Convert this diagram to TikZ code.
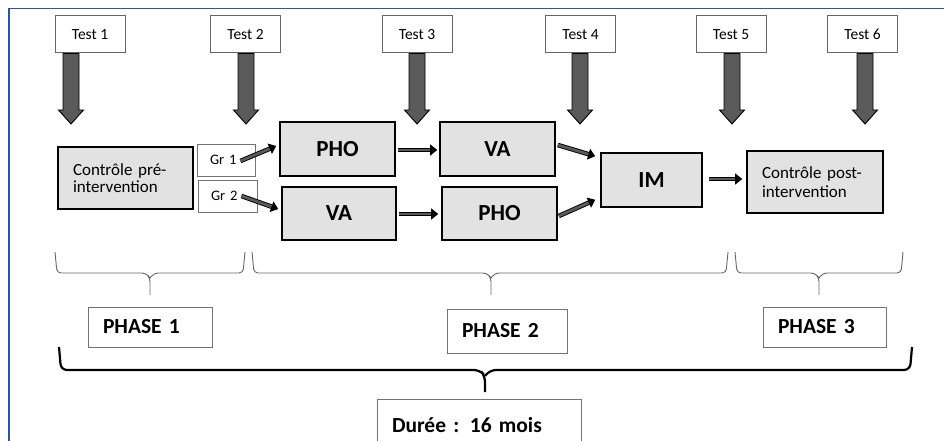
\documentclass[tikz,border=0pt]{standalone}
\usepackage{fontspec}
\setmainfont{Carlito}
\usepackage{tikz}
\usetikzlibrary{arrows.meta,positioning,calc}
\definecolor{framecol}{RGB}{47,85,151}
\definecolor{boxgray}{RGB}{226,226,226}
\definecolor{arrowgray}{RGB}{90,90,90}

\begin{document}
\begin{tikzpicture}[x=1pt, y=-1pt,
  testbox/.style={draw=black!60, line width=1pt, fill=white, minimum width=70pt, minimum height=37pt, inner sep=0pt, font=\fontsize{15.5}{17}\selectfont},
  grbox/.style={draw=black!55, line width=0.9pt, fill=white, minimum height=32pt, inner xsep=13pt, inner ysep=0pt, align=left, font=\fontsize{14.5}{17}\selectfont},
  stepbox/.style={draw=black, line width=1.6pt, fill=boxgray, minimum height=54pt, inner sep=0pt, font=\bfseries\fontsize{23}{25}\selectfont},
  ctrlbox/.style={draw=black, line width=1.6pt, fill=boxgray, minimum height=62pt, inner xsep=15pt, align=left, font=\fontsize{17}{17.5}\selectfont},
  phasebox/.style={draw=black!55, line width=1pt, fill=white, inner xsep=15pt, align=left, font=\bfseries\fontsize{21.5}{24}\selectfont},
  bigarrow/.style={draw=black, line width=0.9pt, fill=arrowgray},
  smallarrow/.style={draw=black, line width=0.9pt, double=arrowgray, double distance=2.8pt, -{Triangle[length=7pt,width=11pt]}},
  phasebrace/.style={draw=black!60, line width=0.9pt, rounded corners=4pt},
  totalbrace/.style={draw=black, line width=2.2pt, rounded corners=6pt}]
\useasboundingbox (0,0) rectangle (944,441);
% Frame
\draw[framecol, line width=1.5pt] (9,441) -- (9,8.5) -- (944,8.5);
% Tests
\node[testbox] (t1) at (90,34.5) {Test 1};
\node[testbox] (t2) at (245.5,34.5) {Test 2};
\node[testbox] (t3) at (417,34.5) {Test 3};
\node[testbox] (t4) at (580.5,34.5) {Test 4};
\node[testbox] (t5) at (731,34.5) {Test 5};
\node[testbox] (t6) at (862.5,34.5) {Test 6};
\foreach \i/\xa in {1/71, 2/246, 3/417, 4/580, 5/732, 6/865} {
  \coordinate (tip\i) at (\xa,124);
  \draw[bigarrow] ($(t\i.south -| tip\i)+(-8,0)$) -- ($(tip\i)+(-8,-14)$) -- ($(tip\i)+(-12.5,-14)$)
    -- (tip\i) -- ($(tip\i)+(12.5,-14)$) -- ($(tip\i)+(8,-14)$) -- ($(t\i.south -| tip\i)+(8,0)$) -- cycle;
}
% Intervention
\node[ctrlbox, text width=105pt] (pre) at (125.5,178) {Contrôle pré-\\intervention};
\node[grbox, text width=32pt] (gr1) at (226,160) {Gr 1};
\node[grbox, text width=33pt] (gr2) at (227.5,196) {Gr 2};
\node[stepbox, minimum width=115pt] (pho1) at (337.5,149) {PHO};
\node[stepbox, minimum width=114pt, minimum height=53pt] (va1) at (339,213.5) {VA};
\node[stepbox, minimum width=115pt] (va2) at (497.5,149) {VA};
\node[stepbox, minimum width=115pt, minimum height=53pt] (pho2) at (499.5,213.5) {PHO};
\node[stepbox, minimum width=101pt] (im) at (651.5,180) {IM};
\node[ctrlbox, text width=106pt, font=\fontsize{17}{19.5}\selectfont] (post) at (815,182) {Contrôle post-\\intervention};
% Flow
\draw[smallarrow] ($(gr1.east)+(-15,1)$) -- ($(pho1.west)+(-3,-3)$);
\draw[smallarrow] ($(gr2.east)+(-16,0)$) -- ($(va1.west)+(-3,-4.5)$);
\draw[smallarrow] ($(pho1.east)+(2,1)$) -- ($(va2.west)+(-2,1)$);
\draw[smallarrow] ($(va1.east)+(2,0.5)$) -- ($(pho2.west)+(-3,0.5)$);
\draw[smallarrow] ($(va2.east)+(2,-4)$) -- ($(im.north west)+(-5,4)$);
\draw[smallarrow] ($(pho2.east)+(1,2.5)$) -- ($(im.south west)+(-5,-8)$);
\draw[smallarrow] ($(im.east)+(6,-1)$) -- ($(post.west |- im.east)+(-4,-1)$);
% Phase braces
\foreach \xa/\xb/\xm in {55/245/150, 252/728/491, 735/903/819} {
  \draw[phasebrace] (\xa,252) -- (\xa+2,273) -- (\xm-4,273) -- (\xm,278) -- (\xm,295);
  \draw[phasebrace] (\xm,278) -- (\xm+4,273) -- (\xb-2,273) -- (\xb,252);
}
\node[phasebox, text width=94pt, minimum height=40pt] (ph1) at (150,327) {PHASE 1};
\node[phasebox, text width=90pt, minimum height=44pt] (ph2) at (507,331) {PHASE 2};
\node[phasebox, text width=93pt, minimum height=40pt] (ph3) at (824.5,327) {PHASE 3};
% Total duration
\draw[totalbrace] (59,347) -- (61,370) -- (480,370) -- (485,376) -- (485,392);
\draw[totalbrace] (485,376) -- (490,370) -- (910,370) -- (912,347);
\node[phasebox, text width=174pt, minimum height=52pt] (dur) at (479,425) {Durée : 16 mois};
\end{tikzpicture}
\end{document}
